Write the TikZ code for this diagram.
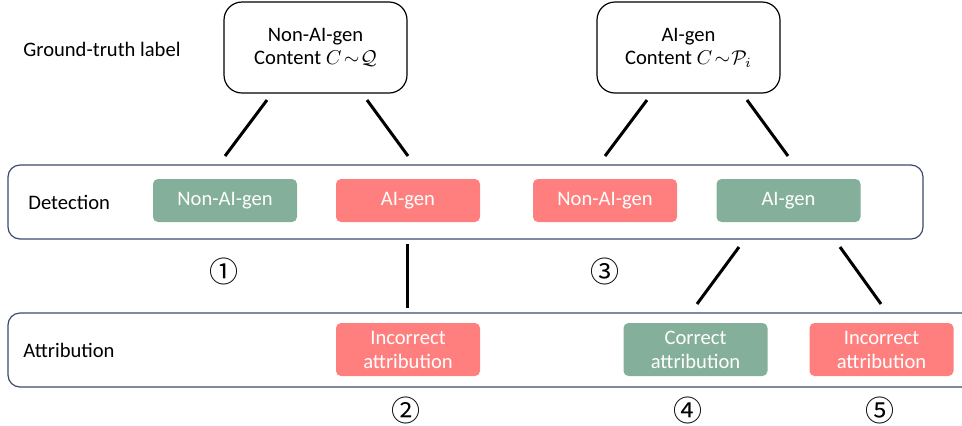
\documentclass[tikz,border=0pt]{standalone}
\usepackage{fontspec}
\setmainfont{Carlito}
\newfontfamily\circfont{Noto Sans CJK SC}
\definecolor{gbox}{HTML}{84AF9B}
\definecolor{rbox}{HTML}{FF7F7F}
\definecolor{bandc}{HTML}{3B4A6B}
\begin{document}
\begin{tikzpicture}[x=0.5pt,y=-0.5pt,
  gt/.style={draw=black, line width=0.6pt, rounded corners=9pt, minimum width=91.5pt, minimum height=45.5pt, align=center, inner sep=0pt, font=\fontsize{10.3}{11.5}\selectfont},
  bandbox/.style={draw=bandc, line width=0.6pt, rounded corners=6pt, inner sep=0pt, minimum height=37pt},
  res/.style={rounded corners=2.5pt, minimum width=72pt, minimum height=21.5pt, text=white, inner sep=0pt, align=center, font=\fontsize{10.3}{12}\selectfont},
  good/.style={res, fill=gbox},
  bad/.style={res, fill=rbox},
  conn/.style={line width=1.5pt, black},
  lab/.style={anchor=west, inner sep=0pt, font=\fontsize{10.3}{12}\selectfont},
  num/.style={inner sep=0pt, font=\circfont\fontsize{14.5}{16}\selectfont}]
\useasboundingbox (0,0) rectangle (962,425);
\clip (0,0) rectangle (962,425);

% ground truth
\node[lab] (gtlab) at (23,49) {Ground-truth label};
\node[gt] (gtn) at (315.5,47.5) {Non-AI-gen\\Content $C\mkern2mu{\sim}\mkern1mu\mathcal{Q}$};
\node[gt] (gta) at (688.5,47.5) {AI-gen\\Content $C\mkern2mu{\sim}\mkern1mu\mathcal{P}_i$};

% bands
\node[bandbox, minimum width=457.5pt] (det) at (465.5,202) {};
\node[bandbox, minimum width=484pt] (att) at (492,350) {};
\node[lab] (detlab) at (28,202) {Detection};
\node[lab] (attlab) at (23,350) {Attribution};

% detection results
\node[good] (d1) at (225,200.5) {Non-AI-gen};
\node[bad]  (d2) at (408,200.5) {AI-gen};
\node[bad]  (d3) at (605,200.5) {Non-AI-gen};
\node[good] (d4) at (788.5,200.5) {AI-gen};

% attribution results
\node[bad, minimum height=26.5pt]  (a2) at (408,349.5) {Incorrect\\attribution};
\node[good, minimum height=26.5pt] (a4) at (695.5,349.5) {Correct\\attribution};
\node[bad, minimum height=26.5pt]  (a5) at (881.5,349.5) {Incorrect\\attribution};

% numbers
\node[num] (n1) at (224,271) {①};
\node[num] (n3) at (605,271) {③};
\node[num] (n2) at (406,410) {②};
\node[num] (n4) at (688,410) {④};
\node[num] (n5) at (880,410) {⑤};

% connector end points
\coordinate (c1a) at (267,100); \coordinate (c1b) at (225,156);
\coordinate (c2a) at (367,100); \coordinate (c2b) at (408,156);
\coordinate (c3a) at (647,100); \coordinate (c3b) at (605,156);
\coordinate (c4a) at (747,100); \coordinate (c4b) at (788,156);
\coordinate (c5a) at (407,244); \coordinate (c5b) at (407,308);
\coordinate (c6a) at (739,247); \coordinate (c6b) at (697,304);
\coordinate (c7a) at (840,247); \coordinate (c7b) at (881,304);

\draw[conn] (c1a) -- (c1b);
\draw[conn] (c2a) -- (c2b);
\draw[conn] (c3a) -- (c3b);
\draw[conn] (c4a) -- (c4b);
\draw[conn] (c5a) -- (c5b);
\draw[conn] (c6a) -- (c6b);
\draw[conn] (c7a) -- (c7b);
\end{tikzpicture}
\end{document}
